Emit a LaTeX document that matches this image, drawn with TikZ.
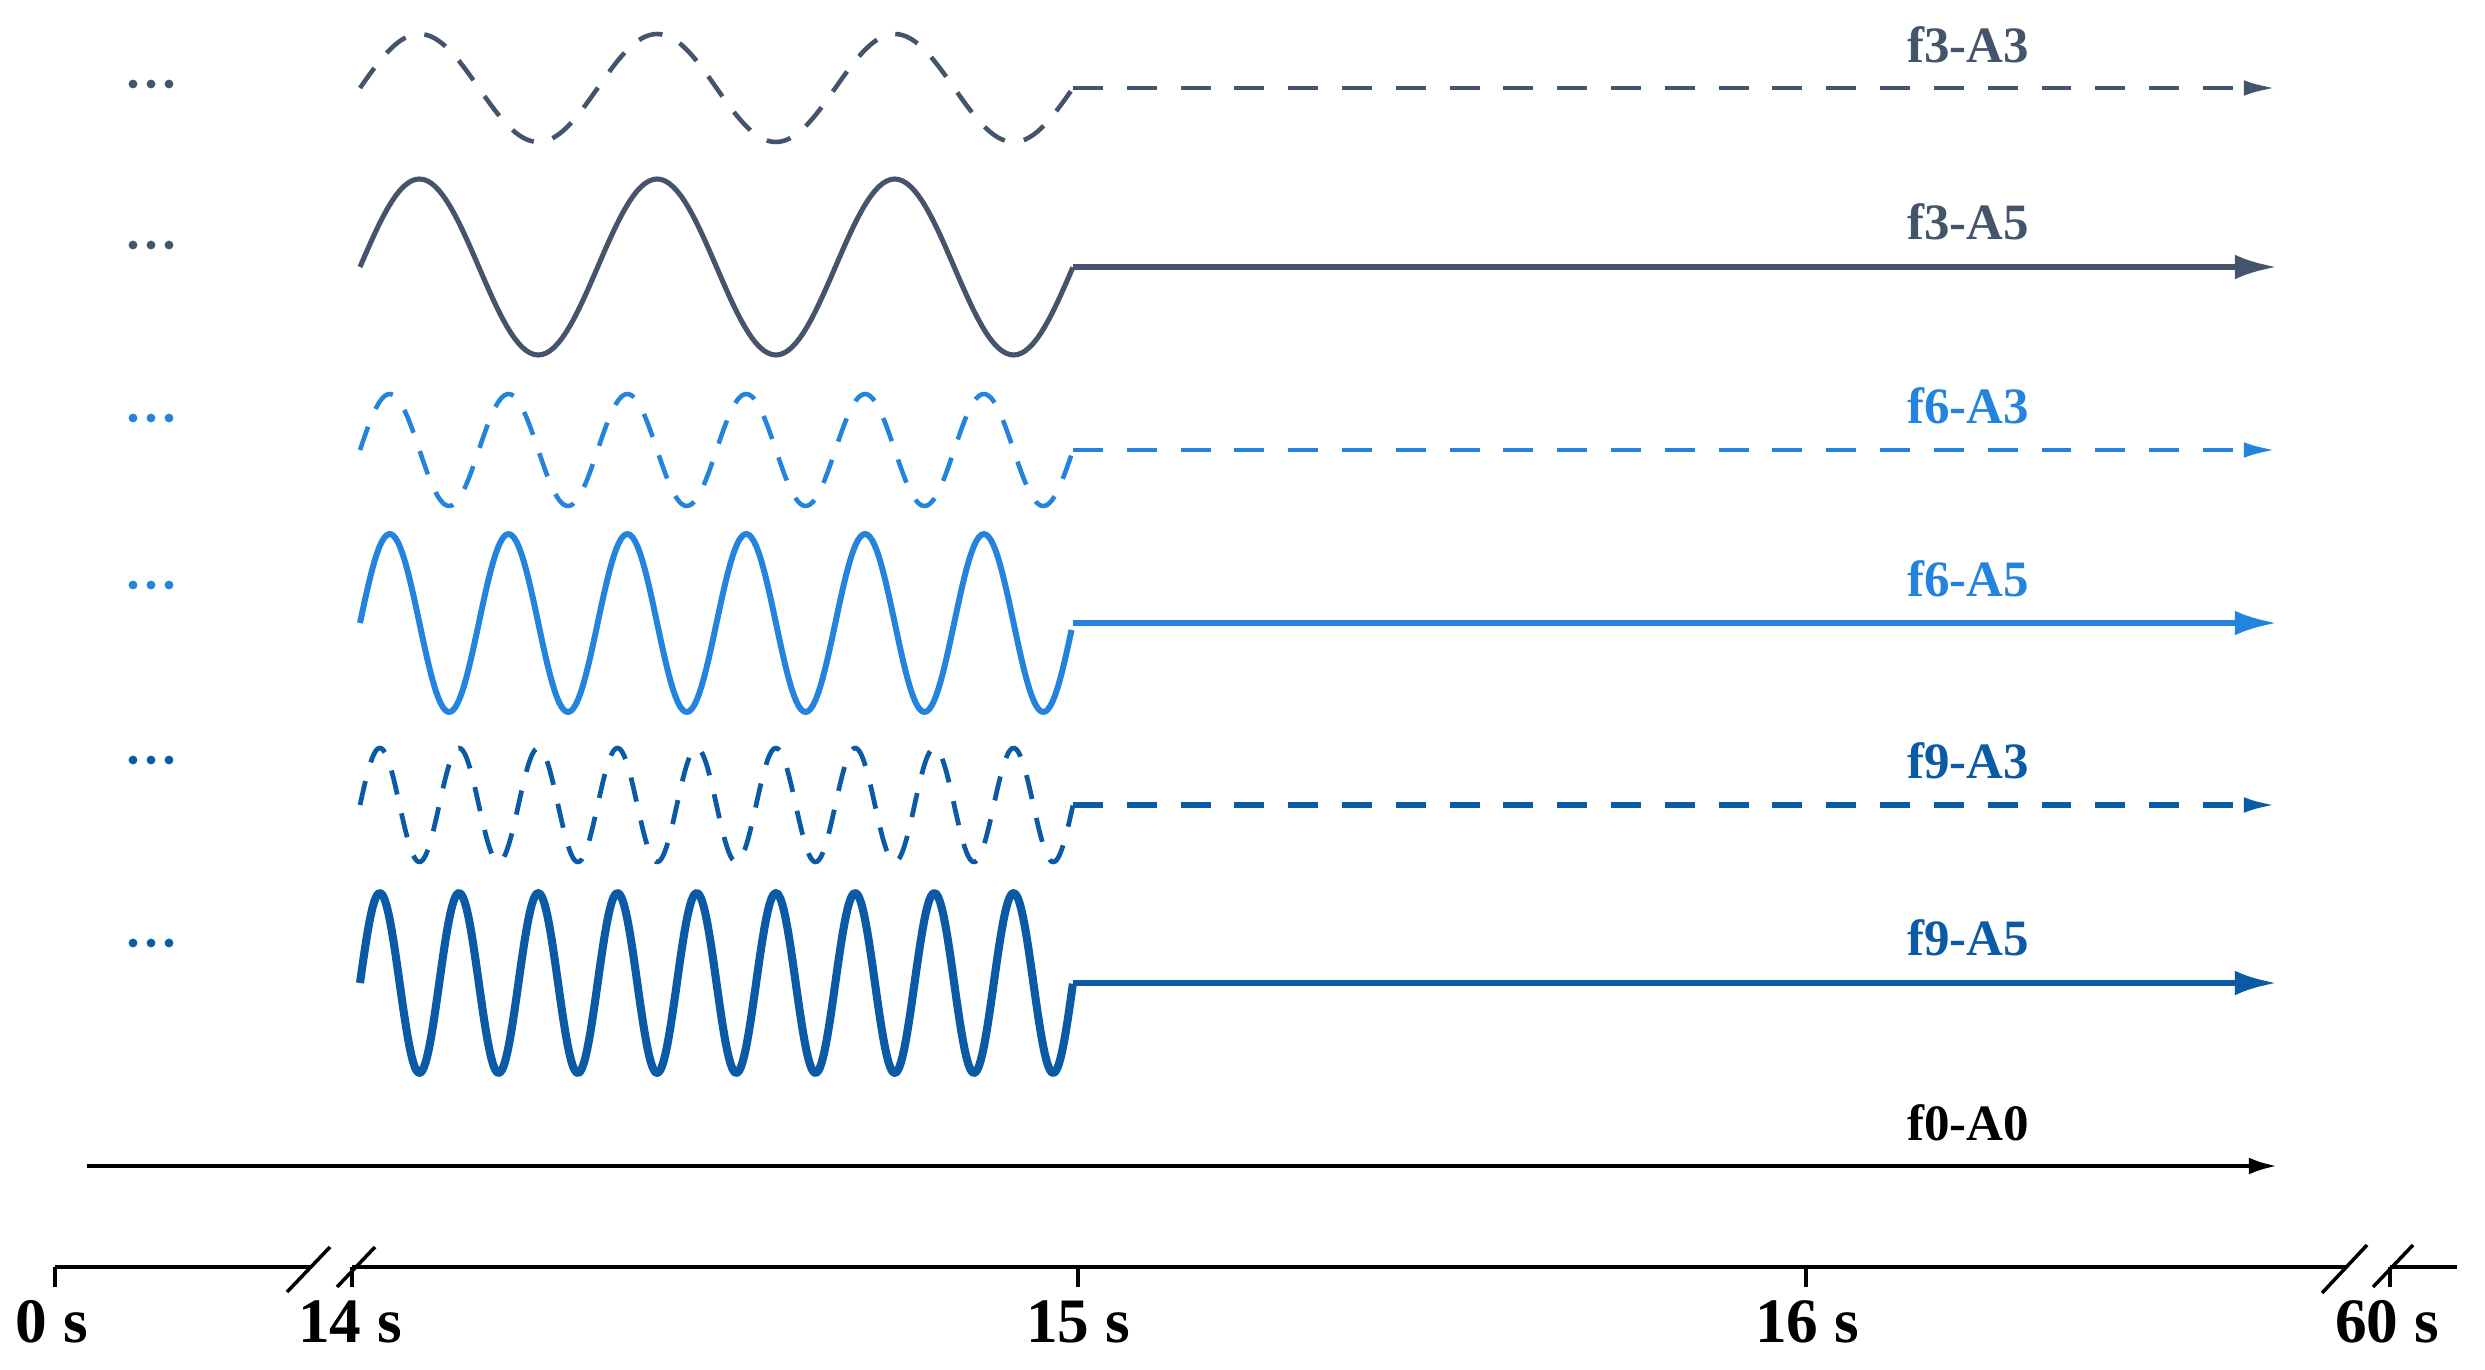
\documentclass[tikz,border=0pt]{standalone}
\usepackage{fontspec}
\setmainfont{Liberation Serif}
\usetikzlibrary{arrows.meta}
\definecolor{cthree}{HTML}{44546A}
\definecolor{csix}{HTML}{2383DD}
\definecolor{cnine}{HTML}{0A5AA5}
\begin{document}
\begin{tikzpicture}[x=0.01cm,y=-0.01cm,
  lab/.style={font=\fontsize{14.5}{17}\selectfont\bfseries, anchor=base, inner sep=0pt},
  axlab/.style={font=\fontsize{18}{21}\selectfont\bfseries, anchor=base, inner sep=0pt},
  bigtip/.style={-{Latex[length=12pt,width=7pt]}},
  smalltip/.style={-{Latex[length=9.4pt,width=4.4pt]}},
  dashw/.style={dash pattern=on 7pt off 5.5pt},
  dashh/.style={dash pattern=on 8.5pt off 6.8pt},
  axisline/.style={line width=1pt, black},
  dotm/.style={radius=1.25pt},
]
\useasboundingbox (0,0) rectangle (2485,1370);

% ---------- row coordinates ----------
\foreach \n/\c in {r1/88, r2/267, r3/450, r4/623, r5/805, r6/983}{
  \coordinate (\n s) at (360,\c);
  \coordinate (\n e) at (1073,\c);
  \coordinate (\n t) at (2277,\c);
}

% ---------- f3-A3 ----------
\draw[cthree, line width=1.3pt, dashw, line join=round]
  plot[domain=0:1, samples=181] ({360+713*\x}, {88-54*sin(1080*\x)});
\draw[cthree, line width=1.4pt, dashh, smalltip] (r1e) -- (r1t);
\node[lab, text=cthree] (l1) at (1968,63) {f3-A3};

% ---------- f3-A5 ----------
\draw[cthree, line width=1.45pt, line join=round]
  plot[domain=0:1, samples=181] ({360+713*\x}, {267-88*sin(1080*\x)});
\draw[cthree, line width=1.7pt, bigtip] (r2e) -- (r2t);
\node[lab, text=cthree] (l2) at (1968,240) {f3-A5};

% ---------- f6-A3 ----------
\draw[csix, line width=1.3pt, dashw, line join=round]
  plot[domain=0:1, samples=301] ({360+713*\x}, {450-56*sin(2160*\x)});
\draw[csix, line width=1.4pt, dashh, smalltip] (r3e) -- (r3t);
\node[lab, text=csix] (l3) at (1968,423) {f6-A3};

% ---------- f6-A5 ----------
\draw[csix, line width=1.7pt, line join=round]
  plot[domain=0:1, samples=301] ({360+713*\x}, {623-89*sin(2160*\x)});
\draw[csix, line width=1.7pt, bigtip] (r4e) -- (r4t);
\node[lab, text=csix] (l4) at (1968,596) {f6-A5};

% ---------- f9-A3 ----------
\draw[cnine, line width=1.35pt, dashw, line join=round]
  plot[domain=0:1, samples=401] ({360+713*\x}, {805-57*sin(3240*\x)});
\draw[cnine, line width=1.5pt, dashh, smalltip] (r5e) -- (r5t);
\node[lab, text=cnine] (l5) at (1968,778) {f9-A3};

% ---------- f9-A5 ----------
\draw[cnine, line width=2.3pt, line join=round]
  plot[domain=0:1, samples=401] ({360+713*\x}, {983-90*sin(3240*\x)});
\draw[cnine, line width=1.8pt, bigtip] (r6e) -- (r6t);
\node[lab, text=cnine] (l6) at (1968,955) {f9-A5};

% ---------- f0-A0 ----------
\coordinate (f0s) at (87,1166);
\coordinate (f0t) at (2277,1166);
\draw[black, line width=1.15pt, -{Latex[length=8pt,width=4.8pt]}] (f0s) -- (f0t);
\node[lab, text=black] (l0) at (1968,1140) {f0-A0};

% ---------- dots ----------
\foreach \y/\col in {84/cthree, 245/cthree, 418/csix, 585/csix, 760/cnine, 943/cnine}{
  \foreach \xx in {133,151,169}{
    \fill[\col] (\xx,\y) circle[dotm];
  }
}

% ---------- time axis ----------
\coordinate (a0) at (55,1267);
\coordinate (a1) at (311,1267);
\coordinate (a2) at (352,1267);
\coordinate (a3) at (2346,1267);
\coordinate (a4) at (2390,1267);
\coordinate (a5) at (2457,1267);
\draw[axisline] (a0) -- (a1);
\draw[axisline] (a2) -- (a3);
\draw[axisline] (a4) -- (a5);
% break marks
\coordinate (s1a) at (287,1292); \coordinate (s1b) at (330,1247);
\coordinate (s2a) at (337,1287); \coordinate (s2b) at (375,1247);
\coordinate (s3a) at (2322,1293); \coordinate (s3b) at (2367,1245);
\coordinate (s4a) at (2373,1287); \coordinate (s4b) at (2413,1245);
\draw[axisline] (s1a) -- (s1b);
\draw[axisline] (s2a) -- (s2b);
\draw[axisline] (s3a) -- (s3b);
\draw[axisline] (s4a) -- (s4b);
% ticks and labels
\foreach \nm/\tx/\lx/\txt in {t0/55/52/0 s, t14/352/350/14 s, t15/1078/1078/15 s, t16/1806/1807/16 s, t60/2390/2387/60 s}{
  \coordinate (\nm) at (\tx,1267);
  \draw[line width=0.9pt] (\nm) -- ++(0,20);
  \node[axlab] (\nm l) at (\lx,1342) {\txt};
}
\end{tikzpicture}
\end{document}
